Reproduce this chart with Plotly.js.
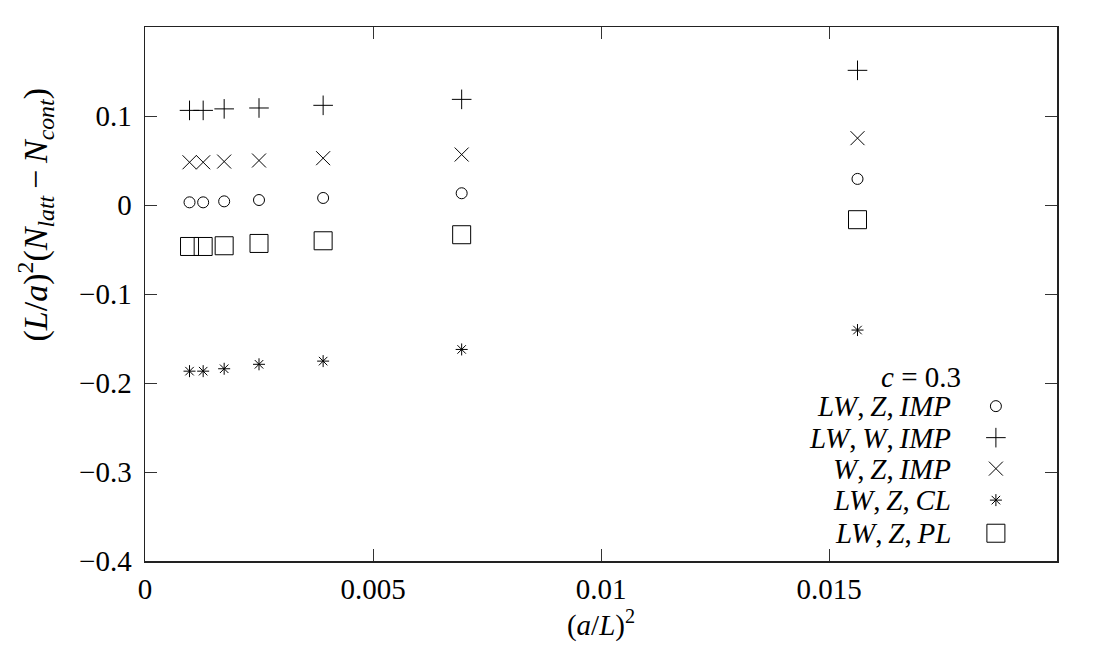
<!DOCTYPE html>
<html>
<head>
<meta charset="utf-8">
<script src="https://cdn.plot.ly/plotly-3.0.1.min.js"></script>
<style>html,body{margin:0;padding:0;background:#fff;}#chart{width:1118px;height:660px;}</style>
</head>
<body>
<div id="chart"></div>
<script>
// lattice sizes L/a = 32, 28, 24, 20, 16, 12, 8 ; x = (a/L)^2
const Lsizes = [32, 28, 24, 20, 16, 12, 8];
const xVals = [1/1024, 1/784, 1/576, 1/400, 1/256, 1/144, 1/64];

const seriesNames = [
  "<i>LW</i>,\u2009<i>Z</i>,\u2009<i>IMP</i>",
  "<i>LW</i>,\u2009<i>W</i>,\u2009<i>IMP</i>",
  "<i>W</i>,\u2009<i>Z</i>,\u2009<i>IMP</i>",
  "<i>LW</i>,\u2009<i>Z</i>,\u2009<i>CL</i>",
  "<i>LW</i>,\u2009<i>Z</i>,\u2009<i>PL</i>"
];
const lwZImp = [0.0030, 0.0030, 0.0041, 0.0056, 0.0079, 0.0132, 0.0293];
const lwWImp = [0.1063, 0.1063, 0.1080, 0.1090, 0.1120, 0.1187, 0.1513];
const wZImp  = [0.0480, 0.0480, 0.0488, 0.0500, 0.0526, 0.0567, 0.0751];
const lwZCl  = [-0.1867, -0.1867, -0.1840, -0.1790, -0.1754, -0.1623, -0.1405];
const lwZPl  = [-0.0466, -0.0466, -0.0458, -0.0432, -0.0402, -0.0334, -0.0165];

const yTickVals = [0.1, 0, -0.1, -0.2, -0.3, -0.4];
const yTickText = ["0.1", "0", "\u22120.1", "\u22120.2", "\u22120.3", "\u22120.4"];
const xTickVals = [0, 0.005, 0.01, 0.015];
const xTickText = ["0", "0.005", "0.01", "0.015"];
const legendTitle = "<i>c</i> = 0.3";
const yTitle = "(<i>L</i>/<i>a</i>)<sup>2</sup>(<i>N</i><sub><i>latt</i></sub>\u2009\u2212\u2009<i>N</i><sub><i>cont</i></sub>)";
const xTitle = "(<i>a</i>/<i>L</i>)<sup>2</sup>";

const FONT = "Liberation Serif, Times New Roman, serif";
const ink = "#000";

const styles = [
  {symbol: "circle-open", size: 11},
  {symbol: "cross-thin-open", size: 14},
  {symbol: "x-thin-open", size: 14},
  {symbol: "asterisk-open", size: 10},
  {symbol: "square-open", size: 18}
];
const seriesY = [lwZImp, lwWImp, wZImp, lwZCl, lwZPl];

// legend layout (paper fractions of the plot area)
const legendY = [0.290, 0.231, 0.173, 0.114, 0.052];
const legendTextX = 0.886;
const legendKeyX = 0.933;

const data = [];
seriesY.forEach((y, i) => {
  data.push({
    x: xVals, y: y, type: "scatter", mode: "markers", name: seriesNames[i],
    marker: {symbol: styles[i].symbol, size: styles[i].size, color: ink, line: {color: ink, width: 1}},
    showlegend: false
  });
});
// legend keys on an invisible overlay axis spanning the plot area [0,1]x[0,1]
seriesY.forEach((y, i) => {
  data.push({
    x: [legendKeyX], y: [legendY[i]], xaxis: "x2", yaxis: "y2", type: "scatter", mode: "markers",
    name: seriesNames[i] + " key", cliponaxis: false,
    marker: {symbol: styles[i].symbol, size: styles[i].size, color: ink, line: {color: ink, width: 1}},
    showlegend: false
  });
});

const annotations = [];
annotations.push({xref: "paper", yref: "paper", x: 0.897, y: 0.345, xanchor: "right", yanchor: "middle",
  text: legendTitle, showarrow: false, font: {family: FONT, size: 29, color: ink}});
seriesNames.forEach((n, i) => {
  annotations.push({xref: "paper", yref: "paper", x: legendTextX, y: legendY[i], xanchor: "right", yanchor: "middle",
    text: n, showarrow: false, font: {family: FONT, size: 29, color: ink}});
});
// y-axis title (placed as in the reference, above the vertical centre)
annotations.push({xref: "paper", yref: "paper", x: -0.12, y: 0.648, xanchor: "center", yanchor: "middle",
  textangle: -90, text: yTitle, showarrow: false, font: {family: FONT, size: 34, color: ink}});

const axisCommon = {
  showgrid: false, zeroline: false, showline: true, mirror: "ticks",
  linecolor: "#222", linewidth: 1.5, ticks: "inside", ticklen: 12, tickwidth: 1, tickcolor: "#333",
  tickfont: {family: FONT, size: 29, color: ink}
};

const layout = {
  width: 1118, height: 660,
  margin: {l: 145, r: 61, t: 27, b: 99},
  paper_bgcolor: "#fff", plot_bgcolor: "#fff",
  showlegend: false,
  xaxis: Object.assign({}, axisCommon, {
    range: [0, 0.02], tickvals: xTickVals, ticktext: xTickText, ticklabelstandoff: 2,
    title: {text: xTitle, font: {family: FONT, size: 29, color: ink}, standoff: 0}
  }),
  yaxis: Object.assign({}, axisCommon, {
    range: [-0.4, 0.2], tickvals: yTickVals, ticktext: yTickText, ticklabelstandoff: 6
  }),
  xaxis2: {overlaying: "x", range: [0, 1], visible: false, fixedrange: true},
  yaxis2: {overlaying: "y", range: [0, 1], visible: false, fixedrange: true},
  annotations: annotations
};

Plotly.newPlot("chart", data, layout, {displayModeBar: false, staticPlot: true});
</script>
</body>
</html>
